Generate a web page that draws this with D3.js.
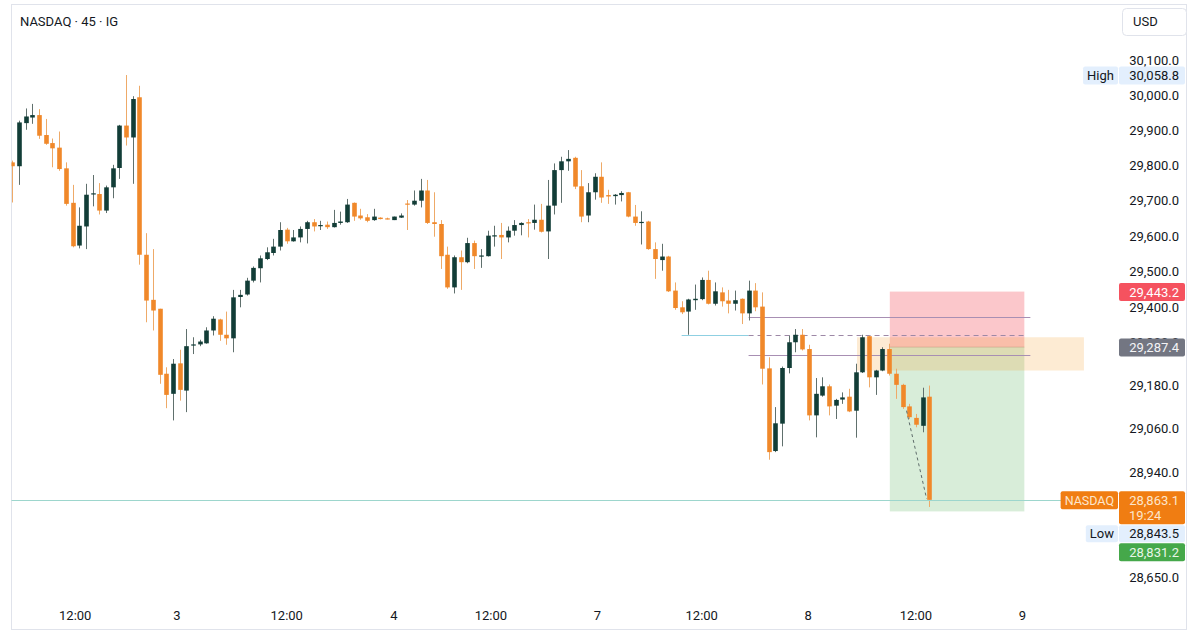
<!DOCTYPE html>
<html>
<head>
<meta charset="utf-8">
<script src="https://cdn.jsdelivr.net/npm/d3@7"></script>
<style>
  body { margin: 0; background: #fff; }
  svg { display: block; font-family: Roboto, "Liberation Sans", sans-serif; }
</style>
</head>
<body>
<svg id="chart" width="1200" height="638"></svg>
<script>
// 45 minute candles, NASDAQ (IG)
const opens = [29809,29798,29921,29937,29944,29887,29864,29851,29792,29694,29573,29627,29718,29719,29672,29738,29793,29914,29880,29995,
  29547,29420,29395,29213,29157,29242,29166,29292,29295,29298,29334,29365,29322,29312,29428,29435,29474,29509,29535,29552,
  29570,29618,29585,29596,29620,29639,29628,29632,29625,29637,29639,29694,29658,29653,29645,29652,29650,29645,29652,29692,
  29689,29700,29729,29639,29634,29547,29455,29540,29526,29580,29543,29543,29599,29603,29596,29615,29631,29639,29637,29646,
  29613,29686,29787,29812,29822,29741,29658,29724,29768,29716,29713,29716,29724,29655,29637,29641,29563,29532,29542,29446,
  29399,29387,29419,29422,29476,29409,29441,29418,29409,29423,29382,29446,29401,29228,28998,29074,29229,29301,29322,29282,
  29097,29152,29178,29124,29141,29149,29110,29217,29318,29203,29222,29282,29213,29182,29122,29090,29068,29149];
const highs = [29814,29928,29963,29976,29961,29933,29877,29897,29809,29745,29681,29748,29773,29750,29743,29802,29916,30058.8,29998,30028,
  29608,29563,29395,29231,29254,29280,29338,29315,29308,29343,29374,29367,29387,29448,29448,29482,29514,29545,29568,29592,
  29639,29623,29617,29627,29643,29648,29643,29641,29674,29669,29705,29695,29677,29662,29677,29653,29652,29655,29664,29702,
  29729,29762,29759,29724,29645,29570,29545,29559,29595,29587,29563,29615,29629,29637,29627,29645,29639,29648,29689,29691,
  29759,29806,29825,29844,29825,29787,29750,29778,29809,29731,29719,29727,29725,29688,29670,29643,29582,29578,29544,29469,
  29416,29423,29463,29483,29502,29469,29455,29448,29446,29424,29474,29467,29441,29259,29120,29233,29320,29338,29338,29294,
  29201,29203,29183,29143,29161,29171,29241,29322,29320,29224,29287,29297,29227,29185,29129,29101,29174,29180];
const lows = [29695,29745,29902,29919,29876,29859,29795,29785,29686,29568,29565,29563,29684,29661,29665,29707,29762,29857,29748,29519,
  29357,29334,29185,29117,29083,29138,29106,29268,29290,29297,29320,29305,29294,29273,29399,29432,29469,29469,29532,29545,
  29559,29578,29584,29582,29579,29613,29617,29620,29624,29632,29637,29643,29646,29639,29643,29647,29647,29645,29651,29617,
  29686,29681,29634,29598,29507,29451,29438,29448,29523,29507,29510,29542,29570,29535,29582,29601,29602,29596,29618,29610,
  29535,29661,29694,29785,29733,29639,29639,29703,29694,29691,29689,29698,29653,29629,29576,29561,29479,29502,29442,29392,
  29380,29322,29392,29419,29407,29404,29401,29382,29390,29352,29362,29388,29183,28974,28995,29011,29214,29273,29278,29083,
  29036,29149,29097,29087,29129,29106,29035,29215,29175,29154,29220,29208,29143,29115,29087,29064,29050,28843.5];
const closes = [29798,29923,29940,29944,29885,29862,29849,29790,29691,29571,29629,29717,29721,29672,29738,29792,29914,29880,29990,29547,
  29418,29390,29210,29154,29241,29168,29290,29295,29303,29334,29367,29322,29312,29427,29434,29474,29510,29537,29554,29570,
  29617,29585,29596,29620,29639,29627,29631,29625,29637,29641,29689,29655,29650,29643,29655,29648,29649,29655,29658,29689,
  29700,29729,29637,29634,29543,29455,29540,29526,29580,29543,29545,29601,29602,29596,29615,29631,29637,29637,29646,29612,
  29686,29787,29812,29819,29740,29655,29724,29768,29709,29712,29717,29722,29655,29637,29640,29563,29535,29542,29444,29397,
  29385,29421,29423,29476,29409,29444,29416,29409,29419,29382,29446,29399,29227,28995,29075,29229,29301,29322,29281,29097,
  29157,29178,29122,29140,29147,29108,29217,29315,29203,29222,29282,29213,29182,29120,29092,29071,29147,28863.1];

// time axis: bar index of each label
const timeTickIdx = [9.4, 24.6, 41.0, 57.0, 71.5, 87.4, 103.0, 118.9, 135.0, 150.9];
const timeLabels = ["12:00", "3", "12:00", "4", "12:00", "7", "12:00", "8", "12:00", "9"];

// price axis (log scale)
const priceTicks = [30100, 30000, 29900, 29800, 29700, 29600, 29500, 29400, 29300, 29180, 29060, 28940, 28650];

// drawings
const stopPrice = 29443.2, entryPrice = 29287.4, targetPrice = 28831.2;
const positionFrom = 131.1, positionTo = 151.2;
const zoneTop = 29315, zoneBottom = 29222, zoneFrom = 126.2, zoneTo = 160.1;
const upperLevel = 29372, lowerLevel = 29266, levelFrom = 110.0, levelTo = 152.1;
const supportLevel = 29321.5, supportFrom = 100.0, supportMid = 110.0, supportTo = 151.3;
const pathStart = [133.6, 29110], pathEnd = [136.6, 28866];
const lastPrice = 28863.1, lastTime = "19:24";
const highPrice = 30058.8, lowPrice = 28843.5;

const svg = d3.select("#chart");
const paneLeft = 11.5, paneRight = 1118, paneTop = 5, paneBottom = 596;

const x = d3.scaleLinear().domain([0, opens.length - 1]).range([12.3, 929.3]);
const y = d3.scaleLog().domain([28650, 30100]).range([577.4, 60.7]);

const upCol = "#123d37", downCol = "#f0882a";
const upWick = "#60706d", downWick = "#eeaa68";

// card
svg.append("rect").attr("x", 11.5).attr("y", 4.5).attr("width", 1175).attr("height", 625)
  .attr("fill", "#fff").attr("stroke", "#e0e3eb");

svg.append("defs").append("clipPath").attr("id", "pane")
  .append("rect").attr("x", paneLeft).attr("y", paneTop).attr("width", paneRight - paneLeft).attr("height", paneBottom - paneTop);

const pane = svg.append("g").attr("clip-path", "url(#pane)");

// long position tool
pane.append("rect")
  .attr("x", x(positionFrom)).attr("width", x(positionTo) - x(positionFrom))
  .attr("y", y(stopPrice)).attr("height", y(entryPrice) - y(stopPrice))
  .attr("fill", "rgba(242,54,69,0.28)");
pane.append("rect")
  .attr("x", x(positionFrom)).attr("width", x(positionTo) - x(positionFrom))
  .attr("y", y(entryPrice)).attr("height", y(targetPrice) - y(entryPrice))
  .attr("fill", "rgba(76,175,80,0.22)");
pane.append("line")
  .attr("x1", x(positionFrom)).attr("x2", x(positionTo))
  .attr("y1", y(entryPrice)).attr("y2", y(entryPrice))
  .attr("stroke", "rgba(150,130,120,0.35)");

// zone
pane.append("rect")
  .attr("x", x(zoneFrom)).attr("width", x(zoneTo) - x(zoneFrom))
  .attr("y", y(zoneTop)).attr("height", y(zoneBottom) - y(zoneTop))
  .attr("fill", "rgba(245,155,35,0.2)");

// level lines
const py = v => Math.round(y(v)) + 0.5;
[upperLevel, lowerLevel].forEach(v => {
  pane.append("line")
    .attr("x1", x(levelFrom)).attr("x2", x(levelTo))
    .attr("y1", py(v)).attr("y2", py(v))
    .attr("stroke", "#a88fb3").attr("stroke-width", 1);
});
pane.append("line")
  .attr("x1", x(supportFrom)).attr("x2", x(supportMid))
  .attr("y1", py(supportLevel)).attr("y2", py(supportLevel))
  .attr("stroke", "#8fd0e2").attr("stroke-width", 1);
pane.append("line")
  .attr("x1", x(supportMid)).attr("x2", x(supportTo))
  .attr("y1", py(supportLevel)).attr("y2", py(supportLevel))
  .attr("stroke", "#9d88a6").attr("stroke-width", 1).attr("stroke-dasharray", "5,4");

// candles
const bars = d3.range(opens.length).map(i => ({ i, o: opens[i], h: highs[i], l: lows[i], c: closes[i] }));
const bw = 4.6;
const cg = pane.append("g");
cg.selectAll("line.wick").data(bars).join("line")
  .attr("class", "wick")
  .attr("x1", d => Math.round(x(d.i)) + 0.5).attr("x2", d => Math.round(x(d.i)) + 0.5)
  .attr("y1", d => y(Math.max(d.h, d.o, d.c))).attr("y2", d => y(Math.min(d.l, d.o, d.c)))
  .attr("stroke", d => d.c >= d.o ? upWick : downWick).attr("stroke-width", 1);
cg.selectAll("rect.body").data(bars).join("rect")
  .attr("class", "body")
  .attr("x", d => Math.round(x(d.i)) + 0.5 - bw / 2)
  .attr("width", bw)
  .attr("y", d => y(Math.max(d.o, d.c)))
  .attr("height", d => Math.max(1.2, Math.abs(y(d.o) - y(d.c))))
  .attr("fill", d => d.c >= d.o ? upCol : downCol);

// projected path
pane.append("line")
  .attr("x1", x(pathStart[0])).attr("y1", y(pathStart[1]))
  .attr("x2", x(pathEnd[0])).attr("y2", y(pathEnd[1]))
  .attr("stroke", "#5d6b6a").attr("stroke-width", 1).attr("stroke-dasharray", "3,3");

// last price line
svg.append("line")
  .attr("x1", paneLeft).attr("x2", 1063)
  .attr("y1", py(lastPrice)).attr("y2", py(lastPrice))
  .attr("stroke", "#9dd6cd").attr("stroke-width", 1);

// header
svg.append("text").attr("x", 20).attr("y", 25.5)
  .attr("font-size", 13).attr("fill", "#131722").text("NASDAQ · 45 · IG");

// USD button
svg.append("rect").attr("x", 1122.5).attr("y", 8.5).attr("width", 64).attr("height", 27).attr("rx", 4)
  .attr("fill", "#fff").attr("stroke", "#e0e3eb");
svg.append("text").attr("x", 1133).attr("y", 26).attr("font-size", 13).attr("fill", "#131722").text("USD");

// price axis ticks
const fmt = d3.format(",.1f");
const axisRight = 1179;
svg.append("g").selectAll("text").data(priceTicks).join("text")
  .attr("x", axisRight).attr("y", d => y(d)).attr("dy", "0.35em")
  .attr("text-anchor", "end").attr("font-size", 13).attr("fill", "#131722")
  .text(d => fmt(d));

// time axis
svg.append("g").selectAll("text").data(timeTickIdx).join("text")
  .attr("x", d => x(d)).attr("y", 619.5)
  .attr("text-anchor", "middle").attr("font-size", 13).attr("fill", "#131722")
  .text((d, i) => timeLabels[i]);

// price labels
const boxX = 1119, boxW = 66, lh = 17;
function valueBox(t, h, bg) {
  svg.append("rect").attr("x", boxX).attr("y", t).attr("width", boxW).attr("height", h).attr("rx", 2).attr("fill", bg);
}
function valueText(cy, txt, col) {
  svg.append("text").attr("x", axisRight).attr("y", cy).attr("dy", "0.35em")
    .attr("text-anchor", "end").attr("font-size", 13).attr("fill", col).text(txt);
}
function sideLabel(t, h, txt, bg, col, fs) {
  const r = svg.append("rect").attr("y", t).attr("height", h).attr("rx", 2).attr("fill", bg);
  const lbl = svg.append("text").attr("y", t + h / 2).attr("dy", "0.35em")
    .attr("text-anchor", "middle").attr("font-size", fs).attr("fill", col).text(txt);
  const w = lbl.node().getComputedTextLength() + 8;
  r.attr("x", boxX - 1 - w).attr("width", w);
  lbl.attr("x", boxX - 1 - w / 2);
}

// High
const hiTop = y(highPrice) - lh / 2;
valueBox(hiTop, lh + 1, "#e3effd");
valueText(hiTop + (lh + 1) / 2, fmt(highPrice), "#131722");
sideLabel(hiTop, lh + 1, "High", "#e3effd", "#131722", 13);

// stop
const stTop = y(stopPrice) - lh / 2;
valueBox(stTop, lh + 1, "#f5525f");
valueText(stTop + (lh + 1) / 2, fmt(stopPrice), "#fff");

// entry
const enTop = y(entryPrice) - lh / 2;
valueBox(enTop, lh + 1, "#737682");
valueText(enTop + (lh + 1) / 2, fmt(entryPrice), "#f4f4f6");

// last price (two lines), then low and target pushed below it
let ty = y(lastPrice) - lh / 2;
valueBox(ty, 2 * lh - 1, "#f07d12");
valueText(ty + lh / 2 + 0.5, fmt(lastPrice), "#fde6cc");
svg.append("text").attr("x", 1129).attr("y", ty + lh * 1.5 - 1).attr("dy", "0.35em")
  .attr("font-size", 13).attr("fill", "#fde6cc").text(lastTime);
sideLabel(ty, lh + 1, "NASDAQ", "#f07d12", "#fde6cc", 12.5);
let next = ty + 2 * lh - 1 + 1;

ty = Math.max(y(lowPrice) - lh / 2, next);
valueBox(ty, lh, "#e3effd");
valueText(ty + lh / 2, fmt(lowPrice), "#131722");
sideLabel(ty, lh, "Low", "#e3effd", "#131722", 13);
next = ty + lh + 1;

ty = Math.max(y(targetPrice) - lh / 2, next);
valueBox(ty, lh + 1, "#45a84a");
valueText(ty + (lh + 1) / 2, fmt(targetPrice), "#e8f6e8");
</script>
</body>
</html>
